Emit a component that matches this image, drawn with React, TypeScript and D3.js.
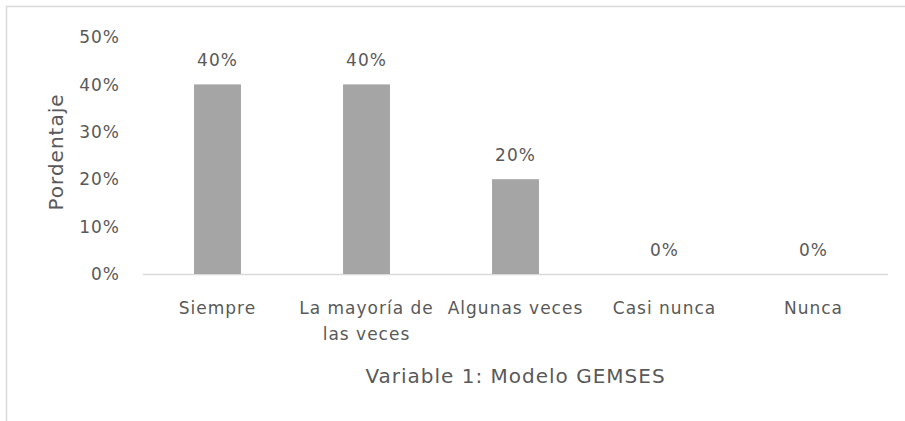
import { useEffect, useRef } from 'react';
import * as d3 from 'd3';

const categories = ['Siempre', 'La mayoría de las veces', 'Algunas veces', 'Casi nunca', 'Nunca'];
const values = [0.4, 0.4, 0.2, 0, 0];
const yTicks = [0, 0.1, 0.2, 0.3, 0.4, 0.5];
const xTitle = 'Variable 1: Modelo GEMSES';
const yTitle = 'Pordentaje';

const App = () => {
  const svgRef = useRef<SVGSVGElement>(null);

  const width = 905;
  const height = 421;
  const textColor = '#595959';

  useEffect(() => {
    if (!svgRef.current) return;
    const svg = d3.select(svgRef.current)
      .style('font-family', '"DejaVu Sans", sans-serif')
      .style('font-size', '17px')
      .style('letter-spacing', '1px');
    svg.selectAll('*').remove();

    const x = d3.scaleBand<string>()
      .domain(categories)
      .range([143, 888])
      .paddingInner(0.685)
      .paddingOuter(0.3425);

    const y = d3.scaleLinear()
      .domain([0, 0.5])
      .range([274, 37]);

    const pct = d3.format('.0%');

    // chart frame (cut by the picture on right and bottom)
    svg.append('rect')
      .attr('x', 6.5)
      .attr('y', 6.5)
      .attr('width', 1200)
      .attr('height', 1200)
      .attr('fill', 'none')
      .attr('stroke', '#d9d9d9')
      .attr('stroke-width', 1.5);

    // y tick labels
    svg.append('g')
      .selectAll('text')
      .data(yTicks)
      .enter()
      .append('text')
      .attr('x', 120)
      .attr('y', d => y(d))
      .attr('dy', '0.36em')
      .attr('text-anchor', 'end')
      .attr('fill', textColor)
      .text(d => pct(d));

    // baseline
    svg.append('line')
      .attr('x1', 143)
      .attr('x2', 888)
      .attr('y1', y(0) + 0.5)
      .attr('y2', y(0) + 0.5)
      .attr('stroke', '#d9d9d9')
      .attr('stroke-width', 1.5);

    // bars
    svg.append('g')
      .selectAll('rect')
      .data(values)
      .enter()
      .append('rect')
      .attr('x', (d, i) => x(categories[i]) ?? 0)
      .attr('y', d => y(d))
      .attr('width', x.bandwidth())
      .attr('height', d => y(0) - y(d))
      .attr('fill', '#a5a5a5');

    // value labels
    svg.append('g')
      .selectAll('text')
      .data(values)
      .enter()
      .append('text')
      .attr('x', (d, i) => (x(categories[i]) ?? 0) + x.bandwidth() / 2)
      .attr('y', d => y(d) - 18)
      .attr('text-anchor', 'middle')
      .attr('fill', textColor)
      .text(d => pct(d));

    // category labels, wrapped to the slot width
    const maxW = x.step();
    svg.append('g')
      .selectAll('text')
      .data(categories)
      .enter()
      .append('text')
      .attr('text-anchor', 'middle')
      .attr('fill', textColor)
      .each(function (d) {
        const el = d3.select(this);
        const cx = (x(d) ?? 0) + x.bandwidth() / 2;
        const words = d.split(' ');
        let line: string[] = [];
        let lineNo = 0;
        let tspan = el.append('tspan').attr('x', cx).attr('y', 314);
        words.forEach(w => {
          line.push(w);
          tspan.text(line.join(' '));
          if ((tspan.node() as SVGTSpanElement).getComputedTextLength() > maxW && line.length > 1) {
            line.pop();
            tspan.text(line.join(' '));
            line = [w];
            lineNo++;
            tspan = el.append('tspan').attr('x', cx).attr('y', 314 + lineNo * 26).text(w);
          }
        });
      });

    // axis titles
    svg.append('text')
      .attr('x', (143 + 888) / 2)
      .attr('y', 383)
      .attr('text-anchor', 'middle')
      .attr('fill', textColor)
      .style('font-size', '20px')
      .text(xTitle);

    svg.append('text')
      .attr('transform', 'translate(63,152) rotate(-90)')
      .attr('text-anchor', 'middle')
      .attr('fill', textColor)
      .style('font-size', '20px')
      .text(yTitle);
  }, []);

  return (
    <div style={{ position: 'fixed', left: 0, top: 0, width, height, background: '#fff' }}>
      <svg ref={svgRef} width={width} height={height} style={{ display: 'block' }}></svg>
    </div>
  );
};

export default App;
